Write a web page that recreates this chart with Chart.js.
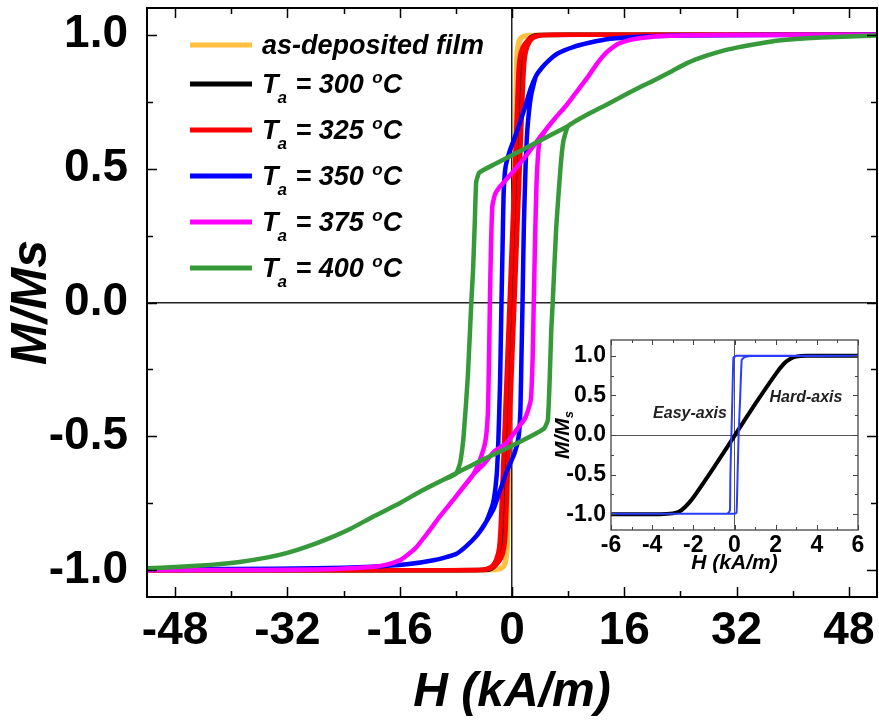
<!DOCTYPE html>
<html>
<head>
<meta charset="utf-8">
<script src="https://cdn.jsdelivr.net/npm/chart.js@4.4.0/dist/chart.umd.min.js"></script>
<style>
  body { margin: 0; background: #fff; }
  #wrap { position: relative; width: 879px; height: 724px; }
  #main { position: absolute; left: 0; top: 0; }
  #inset { position: absolute; left: 548px; top: 330px; }
</style>
</head>
<body>
<div id="wrap">
  <canvas id="main" width="879" height="724"></canvas>
  <canvas id="inset" width="322" height="262"></canvas>
</div>
<script>
'use strict';

// hysteresis loops, points are [H (kA/m), M/Ms]
// each loop: descending branch (+H -> -H), then ascending branch (-H -> +H)
const asDepDown = [[52, 1.0], [20, 1.0], [6, 1.0], [2.5, 0.999], [1.6, 0.995], [1.1, 0.985], [0.8, 0.96], [0.6, 0.9], [0.45, 0.6], [0.2, 0.3], [-0.05, 0], [-0.3, -0.3], [-0.55, -0.6], [-0.75, -0.9], [-0.95, -0.96], [-1.3, -0.985], [-1.9, -0.995], [-3, -0.999], [-8, -1.0], [-52, -1.0]];
const asDepUp = [[-52, -1.0], [-20, -1.0], [-6, -1.0], [-2.5, -0.999], [-1.6, -0.995], [-1.1, -0.985], [-0.8, -0.96], [-0.6, -0.9], [-0.45, -0.6], [-0.2, -0.3], [0.05, 0], [0.3, 0.3], [0.55, 0.6], [0.75, 0.9], [0.95, 0.96], [1.3, 0.985], [1.9, 0.995], [3, 0.999], [8, 1.0], [52, 1.0]];

const t300Down = [[52, 1.0], [12, 1.0], [4, 0.999], [3.0, 0.995], [2.3, 0.98], [1.8, 0.955], [1.3, 0.9], [0.9, 0.6], [0.4, 0.3], [0, 0], [-0.5, -0.3], [-1.0, -0.6], [-1.5, -0.9], [-2.1, -0.96], [-2.7, -0.985], [-3.4, -0.995], [-4.5, -0.999], [-12, -1.0], [-52, -1.0]];
const t300Up = [[-52, -1.0], [-12, -1.0], [-4, -0.999], [-3.0, -0.995], [-2.3, -0.98], [-1.8, -0.955], [-1.3, -0.9], [-0.9, -0.6], [-0.4, -0.3], [0, 0], [0.5, 0.3], [1.0, 0.6], [1.5, 0.9], [2.1, 0.96], [2.7, 0.985], [3.4, 0.995], [4.5, 0.999], [12, 1.0], [52, 1.0]];

const t325Down = [[52, 1.0], [15, 1.0], [5, 0.999], [3.6, 0.997], [2.8, 0.99], [2.1, 0.975], [1.55, 0.955], [1.15, 0.92], [0.9, 0.85], [0.55, 0.6], [0.1, 0.3], [-0.35, 0], [-0.8, -0.3], [-1.25, -0.6], [-1.6, -0.83], [-1.85, -0.92], [-2.25, -0.96], [-2.75, -0.982], [-3.4, -0.993], [-4.3, -0.998], [-6, -1.0], [-52, -1.0]];
const t325Up = [[-52, -1.0], [-15, -1.0], [-5, -0.999], [-3.6, -0.997], [-2.8, -0.99], [-2.1, -0.975], [-1.55, -0.955], [-1.15, -0.92], [-0.9, -0.85], [-0.55, -0.6], [-0.1, -0.3], [0.35, 0], [0.8, 0.3], [1.25, 0.6], [1.6, 0.83], [1.85, 0.92], [2.25, 0.96], [2.75, 0.982], [3.4, 0.993], [4.3, 0.998], [6, 1.0], [52, 1.0]];

const t350Down = [[52, 1.0], [36, 0.999], [24, 0.997], [18, 0.993], [14, 0.985], [11, 0.97], [8.7, 0.954], [6.5, 0.93], [5.3, 0.905], [4.2, 0.875], [3.4, 0.845], [2.6, 0.795], [1.8, 0.725], [0.8, 0.645], [-0.4, 0.56], [-0.95, 0.5], [-1.2, 0.4], [-1.35, 0.2], [-1.5, 0], [-1.7, -0.3], [-1.95, -0.52], [-2.2, -0.65], [-2.7, -0.75], [-3.7, -0.82], [-5, -0.87], [-6.5, -0.91], [-8, -0.94], [-11, -0.962], [-15, -0.978], [-20, -0.987], [-28, -0.993], [-40, -0.995], [-52, -0.996]];
const t350Up = [[-52, -0.996], [-40, -0.995], [-28, -0.993], [-20, -0.987], [-15, -0.978], [-11, -0.962], [-8, -0.94], [-6.5, -0.91], [-5, -0.87], [-3.7, -0.82], [-2.6, -0.77], [-1.8, -0.71], [-0.8, -0.635], [0.4, -0.56], [0.95, -0.5], [1.2, -0.4], [1.35, -0.2], [1.5, 0], [1.7, 0.3], [1.95, 0.52], [2.2, 0.65], [2.7, 0.77], [3.4, 0.845], [4.2, 0.875], [5.3, 0.905], [6.5, 0.93], [8.7, 0.954], [11, 0.97], [14, 0.985], [18, 0.993], [24, 0.997], [36, 0.999], [52, 1.0]];

const t375Down = [[52, 1.0], [40, 1.0], [30, 0.999], [24, 0.997], [20, 0.993], [17, 0.982], [15, 0.965], [13.5, 0.935], [12.2, 0.895], [10.6, 0.835], [9, 0.78], [7.7, 0.735], [6.2, 0.69], [4.9, 0.648], [3.9, 0.615], [2.5, 0.565], [1.0, 0.515], [-0.8, 0.46], [-1.8, 0.43], [-2.4, 0.405], [-2.8, 0.36], [-3.0, 0.2], [-3.15, 0], [-3.3, -0.25], [-3.45, -0.42], [-3.8, -0.52], [-4.6, -0.59], [-5.6, -0.645], [-8, -0.725], [-10.3, -0.8], [-12, -0.86], [-13.6, -0.913], [-15, -0.945], [-16, -0.963], [-18, -0.98], [-20, -0.988], [-26, -0.996], [-36, -0.999], [-52, -1.0]];
const t375Up = [[-52, -1.0], [-36, -0.999], [-26, -0.996], [-20, -0.988], [-18, -0.98], [-16, -0.963], [-15, -0.945], [-13.6, -0.913], [-12, -0.86], [-10.3, -0.8], [-8, -0.725], [-5.6, -0.645], [-3.9, -0.6], [-2.5, -0.555], [-0.8, -0.525], [0.8, -0.47], [1.8, -0.435], [2.2, -0.41], [2.7, -0.36], [2.95, -0.2], [3.1, 0], [3.3, 0.25], [3.5, 0.45], [3.9, 0.6], [4.9, 0.648], [6.2, 0.69], [7.7, 0.735], [9, 0.78], [10.6, 0.835], [12.2, 0.895], [13.5, 0.935], [15, 0.965], [17, 0.982], [20, 0.993], [24, 0.997], [30, 0.999], [40, 1.0], [52, 1.0]];

const t400Down = [[52, 0.997], [48, 0.994], [44, 0.99], [40, 0.983], [37, 0.975], [34, 0.962], [32, 0.952], [30, 0.94], [27.7, 0.922], [25, 0.895], [22.9, 0.866], [20, 0.826], [18.2, 0.804], [15, 0.76], [13.4, 0.738], [11, 0.706], [8.7, 0.672], [7.7, 0.655], [6, 0.632], [3, 0.591], [0, 0.55], [-2.5, 0.516], [-4.0, 0.496], [-4.7, 0.484], [-5.1, 0.45], [-5.3, 0.3], [-5.55, 0.12], [-5.8, 0], [-6.3, -0.28], [-6.9, -0.5], [-7.4, -0.6], [-8, -0.64], [-10, -0.665], [-13, -0.705], [-16, -0.75], [-19.8, -0.8], [-23, -0.845], [-26, -0.88], [-29.3, -0.913], [-32, -0.935], [-35, -0.953], [-38.8, -0.969], [-43, -0.98], [-48, -0.988], [-52, -0.993]];
const t400Up = [[-52, -0.993], [-48, -0.988], [-43, -0.98], [-38.8, -0.969], [-35, -0.953], [-32, -0.935], [-29.3, -0.913], [-26, -0.88], [-23, -0.845], [-19.8, -0.8], [-16, -0.75], [-13, -0.705], [-10, -0.665], [-8, -0.638], [-4, -0.585], [0, -0.535], [3, -0.495], [4.6, -0.47], [5.1, -0.44], [5.35, -0.3], [5.6, -0.1], [5.8, 0], [6.3, 0.28], [6.9, 0.5], [7.3, 0.6], [7.9, 0.655], [8.7, 0.672], [11, 0.706], [13.4, 0.738], [15, 0.76], [18.2, 0.804], [20, 0.826], [22.9, 0.866], [25, 0.895], [27.7, 0.922], [30, 0.94], [32, 0.952], [34, 0.962], [37, 0.975], [40, 0.983], [44, 0.99], [48, 0.994], [52, 0.997]];

const annealTemps = [300, 325, 350, 375, 400];
const seriesColors = ['#ffbf40', '#000000', '#ff0000', '#0000ff', '#ff00ff', '#379a3a'];

const xTicks = [-48, -32, -16, 0, 16, 32, 48];
const yTicks = [-1.0, -0.5, 0.0, 0.5, 1.0];

// inset: easy axis loop and hard axis curve
const easyDown = [[6, 1.0], [0.1, 1.0], [-0.05, 0.98], [-0.1, 0.5], [-0.15, 0], [-0.2, -0.5], [-0.22, -0.95], [-0.3, -0.985], [-0.5, -0.995], [-6, -0.995]];
const easyUp = [[-6, -0.995], [0.0, -0.995], [0.1, -0.98], [0.15, -0.5], [0.2, 0], [0.28, 0.5], [0.35, 0.95], [0.5, 0.985], [0.9, 0.998], [6, 1.0]];
const hardAxis = [[-6, -1.0], [-3.6, -1.0], [-3.0, -0.99], [-2.7, -0.97], [-2.4, -0.91], [-2.0, -0.79], [-1.0, -0.41], [0, -0.01], [1.0, 0.39], [2.0, 0.77], [2.4, 0.9], [2.7, 0.96], [3.0, 0.99], [3.5, 1.0], [6, 1.0]];

const insetXTicks = [-6, -4, -2, 0, 2, 4, 6];
const insetYTicks = [-1.0, -0.5, 0.0, 0.5, 1.0];

const FONT = "'Liberation Sans', Arial, sans-serif";
Chart.defaults.font.family = FONT;
Chart.defaults.color = '#000';

const toPoints = arr => arr.map(p => ({ x: p[0], y: p[1] }));

const mainSeries = [
  { label: 'as-deposited film', down: asDepDown, up: asDepUp },
  { label: 'Ta = 300 °C', down: t300Down, up: t300Up },
  { label: 'Ta = 325 °C', down: t325Down, up: t325Up },
  { label: 'Ta = 350 °C', down: t350Down, up: t350Up },
  { label: 'Ta = 375 °C', down: t375Down, up: t375Up },
  { label: 'Ta = 400 °C', down: t400Down, up: t400Up }
];

// only the zero line of each axis is drawn as a grid line
const zeroOnly = color => ctx => (ctx.tick && ctx.tick.value === 0 ? color : 'rgba(0,0,0,0)');

function fixBox(w, h) {
  return s => {
    if (w) s.width = w;
    if (h) s.height = h;
    s.paddingLeft = 0; s.paddingRight = 0; s.paddingTop = 0; s.paddingBottom = 0;
  };
}

// frame round the plot and inward ticks on all four sides
const frameTicks = {
  id: 'frameTicks',
  afterDatasetsDraw(chart, args, o) {
    const { ctx, chartArea: a } = chart;
    const sx = chart.scales.x, sy = chart.scales.y;
    ctx.save();
    ctx.strokeStyle = o.color;
    ctx.lineWidth = o.tickWidth;
    ctx.beginPath();
    const nx = Math.round((o.xMax - o.xMin) / o.xStep);
    for (let i = 0; i <= nx; i++) {
      const p = Math.round(sx.getPixelForValue(o.xMin + i * o.xStep)) + 0.5;
      const len = i % 2 === 0 ? o.major : o.minor;
      ctx.moveTo(p, a.bottom); ctx.lineTo(p, a.bottom - len);
      ctx.moveTo(p, a.top); ctx.lineTo(p, a.top + len);
    }
    const ny = Math.round((o.yMax - o.yMin) / o.yStep);
    for (let i = 0; i <= ny; i++) {
      const p = Math.round(sy.getPixelForValue(o.yMin + i * o.yStep)) + 0.5;
      const len = i % 2 === 0 ? o.major : o.minor;
      ctx.moveTo(a.left, p); ctx.lineTo(a.left + len, p);
      ctx.moveTo(a.right, p); ctx.lineTo(a.right - len, p);
    }
    ctx.stroke();
    ctx.lineWidth = o.frameWidth;
    ctx.strokeRect(a.left, a.top, a.right - a.left, a.bottom - a.top);
    ctx.restore();
  }
};

// legend with subscript a and superscript o
const mainLegend = {
  id: 'mainLegend',
  afterDatasetsDraw(chart) {
    const { ctx, chartArea: a } = chart;
    const big = 'italic bold 27px ' + FONT;
    const small = 'italic bold 17px ' + FONT;
    ctx.save();
    ctx.textBaseline = 'alphabetic';
    ctx.fillStyle = '#000';
    chart.data.datasets.forEach((ds, i) => {
      const yc = a.top + (i === 0 ? 37 : 76 + (i - 1) * 46);
      ctx.strokeStyle = ds.borderColor;
      ctx.lineWidth = 5;
      ctx.beginPath();
      ctx.moveTo(a.left + 43, yc);
      ctx.lineTo(a.left + 105, yc);
      ctx.stroke();
      let x = a.left + 115;
      const base = yc + 9;
      ctx.font = big;
      if (i === 0) {
        ctx.fillText(ds.label, x, base);
        return;
      }
      ctx.fillText('T', x, base);
      x += ctx.measureText('T').width;
      ctx.font = small;
      ctx.fillText('a', x - 1, base + 10);
      x += ctx.measureText('a').width;
      ctx.font = big;
      const mid = ' = ' + annealTemps[i - 1] + ' ';
      ctx.fillText(mid, x, base);
      x += ctx.measureText(mid).width;
      ctx.font = small;
      ctx.fillText('o', x + 1, base - 10);
      x += ctx.measureText('o').width + 1;
      ctx.font = big;
      ctx.fillText('C', x, base);
    });
    ctx.restore();
  }
};

new Chart(document.getElementById('main'), {
  type: 'scatter',
  data: {
    datasets: mainSeries.map((s, i) => ({
      label: s.label,
      data: toPoints(s.down.concat(s.up)),
      showLine: true,
      borderColor: seriesColors[i],
      backgroundColor: seriesColors[i],
      borderWidth: 4.5,
      borderJoinStyle: 'round',
      pointRadius: 0,
      tension: 0.15,
      order: mainSeries.length - 1 - i
    }))
  },
  options: {
    responsive: false,
    animation: false,
    events: [],
    layout: { padding: { top: 8, right: 2, left: 0, bottom: 0 } },
    plugins: {
      legend: { display: false },
      tooltip: { enabled: false },
      frameTicks: {
        color: '#000', tickWidth: 1.5, frameWidth: 2, major: 10, minor: 6,
        xMin: -48, xMax: 48, xStep: 8, yMin: -1, yMax: 1, yStep: 0.25
      }
    },
    scales: {
      x: {
        type: 'linear', min: -52, max: 52,
        afterBuildTicks: s => { s.ticks = xTicks.map(v => ({ value: v })); },
        afterFit: fixBox(0, 127),
        grid: { drawTicks: false, lineWidth: 1.5, color: zeroOnly('#222') },
        border: { display: false },
        ticks: { autoSkip: false, maxRotation: 0, padding: 7, font: { size: 46, weight: 'bold' }, callback: v => String(v) },
        title: { display: true, text: 'H (kA/m)', padding: { top: 0, bottom: 2 }, font: { size: 48, weight: 'bold', style: 'italic' } }
      },
      y: {
        type: 'linear', min: -1.1, max: 1.1,
        afterBuildTicks: s => { s.ticks = yTicks.map(v => ({ value: v })); },
        afterFit: fixBox(147, 0),
        grid: { drawTicks: false, lineWidth: 1.5, color: zeroOnly('#222') },
        border: { display: false },
        ticks: { autoSkip: false, padding: 19, font: { size: 46, weight: 'bold' }, callback: v => v.toFixed(1) },
        title: { display: true, text: 'M/Ms', padding: { top: 2, bottom: 0 }, font: { size: 50, weight: 'bold', style: 'italic' } }
      }
    }
  },
  plugins: [frameTicks, mainLegend]
});

// inset: y title with subscript s, and the two curve notes
const insetNotes = {
  id: 'insetNotes',
  afterDatasetsDraw(chart) {
    const { ctx, chartArea: a, scales: { x, y } } = chart;
    ctx.save();
    ctx.fillStyle = '#222';
    ctx.font = 'italic bold 16px ' + FONT;
    ctx.textAlign = 'center';
    ctx.textBaseline = 'middle';
    ctx.fillText('Easy-axis', x.getPixelForValue(-2.16), y.getPixelForValue(0.275));
    ctx.fillText('Hard-axis', x.getPixelForValue(3.47), y.getPixelForValue(0.475));
    ctx.restore();

    ctx.save();
    ctx.fillStyle = '#000';
    ctx.translate(21, (a.top + a.bottom) / 2);
    ctx.rotate(-Math.PI / 2);
    ctx.textBaseline = 'alphabetic';
    ctx.font = 'italic bold 21px ' + FONT;
    const w1 = ctx.measureText('M/M').width;
    ctx.font = 'italic bold 13px ' + FONT;
    const w2 = ctx.measureText('s').width;
    const x0 = -(w1 + w2) / 2;
    ctx.font = 'italic bold 21px ' + FONT;
    ctx.fillText('M/M', x0, 0);
    ctx.font = 'italic bold 13px ' + FONT;
    ctx.fillText('s', x0 + w1, 4);
    ctx.restore();
  }
};

new Chart(document.getElementById('inset'), {
  type: 'scatter',
  data: {
    datasets: [
      {
        label: 'Hard-axis', data: toPoints(hardAxis), showLine: true,
        borderColor: '#000', backgroundColor: '#000', borderWidth: 4,
        pointRadius: 0, tension: 0.2, order: 1
      },
      {
        label: 'Easy-axis', data: toPoints(easyDown.concat(easyUp)), showLine: true,
        borderColor: '#2a3cff', backgroundColor: '#2a3cff', borderWidth: 2,
        pointRadius: 0, tension: 0.1, order: 0
      }
    ]
  },
  options: {
    responsive: false,
    animation: false,
    events: [],
    layout: { padding: { top: 10, right: 12, left: 0, bottom: 0 } },
    plugins: {
      legend: { display: false },
      tooltip: { enabled: false },
      frameTicks: {
        color: '#444', tickWidth: 1, frameWidth: 1.3, major: 5, minor: 3,
        xMin: -6, xMax: 6, xStep: 1, yMin: -1, yMax: 1, yStep: 0.25
      }
    },
    scales: {
      x: {
        type: 'linear', min: -6, max: 6,
        afterBuildTicks: s => { s.ticks = insetXTicks.map(v => ({ value: v })); },
        afterFit: fixBox(0, 62),
        grid: { drawTicks: false, lineWidth: 1, color: zeroOnly('#555') },
        border: { display: false },
        ticks: { autoSkip: false, maxRotation: 0, padding: 2, font: { size: 23, weight: 'bold' }, callback: v => String(v) },
        title: { display: true, text: 'H (kA/m)', padding: { top: 0, bottom: 16 }, font: { size: 21, weight: 'bold', style: 'italic' } }
      },
      y: {
        type: 'linear', min: -1.2, max: 1.2,
        afterBuildTicks: s => { s.ticks = insetYTicks.map(v => ({ value: v })); },
        afterFit: fixBox(63, 0),
        grid: { drawTicks: false, lineWidth: 1, color: zeroOnly('#555') },
        border: { display: false },
        ticks: { autoSkip: false, padding: 5, font: { size: 23, weight: 'bold' }, callback: v => v.toFixed(1) }
      }
    }
  },
  plugins: [frameTicks, insetNotes]
});
</script>
</body>
</html>
